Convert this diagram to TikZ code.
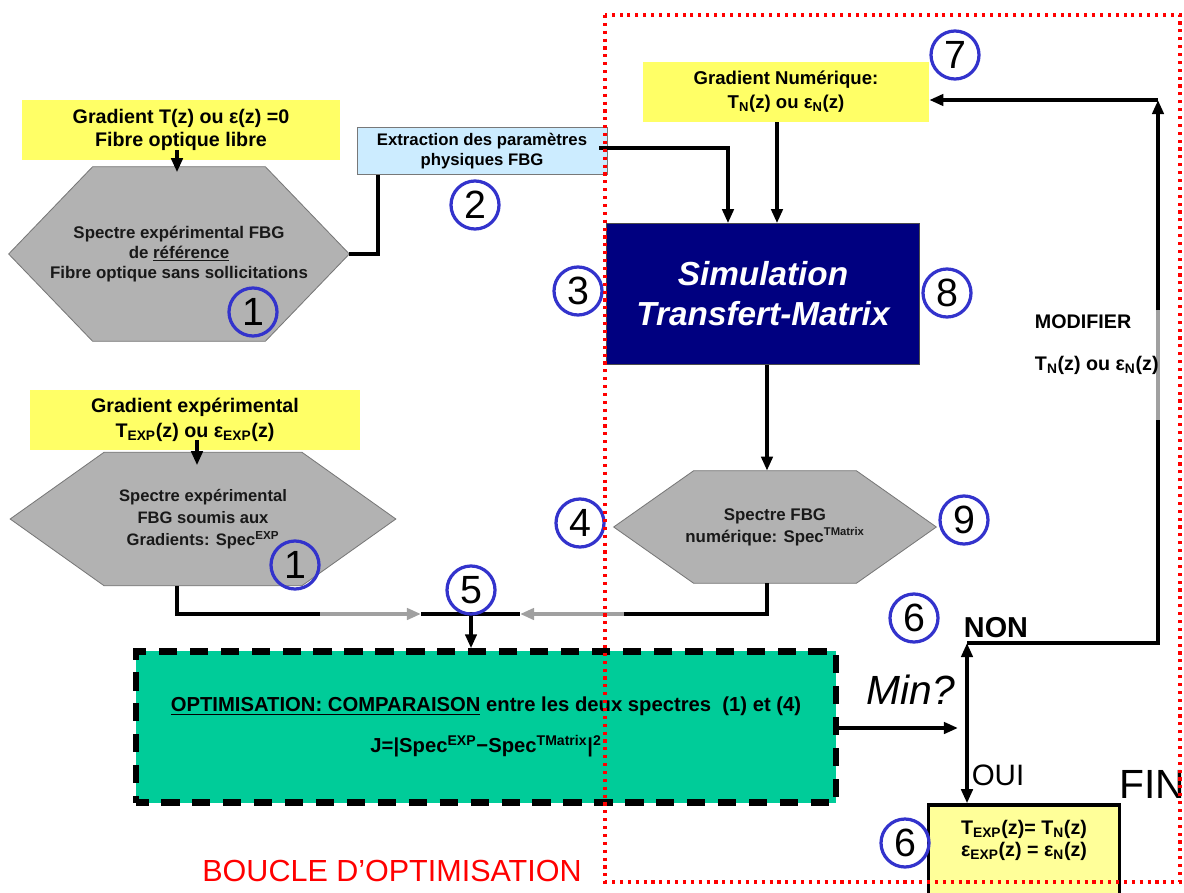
\documentclass[tikz,border=0pt]{standalone}
\usepackage{fontspec}
\setmainfont{Liberation Sans}
\usetikzlibrary{arrows.meta, positioning, calc, backgrounds}

\definecolor{padyellow}{RGB}{255,255,102}
\definecolor{finyellow}{RGB}{255,255,153}
\definecolor{hexgray}{RGB}{178,178,178}
\definecolor{hexedge}{RGB}{120,120,120}
\definecolor{extrblue}{RGB}{204,236,255}
\definecolor{simnavy}{RGB}{0,0,128}
\definecolor{optgreen}{RGB}{0,204,153}
\definecolor{numblue}{RGB}{51,51,204}
\definecolor{wiregray}{RGB}{160,160,160}
\definecolor{loopred}{RGB}{255,0,0}

\newcommand{\fsz}[2]{\fontsize{#1}{#2}\selectfont}

\tikzset{
  gradbox/.style={rectangle, fill=padyellow, align=center, font=\bfseries\fsz{14}{16.5}},
  hexnode/.style={align=center, text=black!90, font=\bfseries\fsz{11.8}{15.6}},
  hexfill/.style={fill=hexgray, draw=hexedge, line width=0.6pt},
  extrbox/.style={rectangle, fill=extrblue, draw=hexedge, line width=0.6pt, align=center,
    minimum width=6.25cm, minimum height=1.175cm, font=\bfseries\fsz{11.9}{14.2}},
  simbox/.style={rectangle, fill=simnavy, draw=black!70, text=white, align=center,
    minimum width=7.825cm, minimum height=3.525cm, font=\bfseries\itshape\fsz{23.7}{28.5}},
  optbox/.style={rectangle, fill=optgreen, draw=black, line width=4.5pt, dash pattern=on 13pt off 9pt,
    dash phase=4pt, align=center, minimum width=17.5cm, minimum height=3.775cm, font=\bfseries\fsz{14.4}{29}},
  finbox/.style={rectangle, fill=finyellow, draw=black, line width=2.4pt, align=center, text depth=16pt,
    minimum width=4.775cm, minimum height=2.25cm, font=\bfseries\fsz{14}{15.6}},
  num/.style={circle, draw=numblue, line width=2.3pt, minimum size=1.2cm, inner sep=0pt, font=\fsz{28}{28}},
  wire/.style={line width=2.8pt},
  arr/.style={wire, -{Triangle[length=10pt,width=8pt]}},
}

\begin{document}
\begin{tikzpicture}[x=0.025cm, y=-0.025cm]
  \useasboundingbox (0,0) rectangle (1184,893);
  \clip (0,0) rectangle (1184,893);

  % reference spectrum
  \node[gradbox, minimum width=7.95cm, minimum height=1.5cm] (grad0) at (181,130)
    {Gradient T(z) ou ε(z) =0\\Fibre optique libre};
  \node[hexnode, minimum width=8.5cm, minimum height=4.35cm, font=\bfseries\fsz{12}{14}] (hexa) at (179,254)
    {Spectre expérimental FBG\\de \underline{référence}\\Fibre optique sans sollicitations};
  \node[extrbox] (extr) at (482,151) {Extraction des paramètres\\physiques FBG};

  % measured spectrum
  \node[gradbox, minimum width=8.25cm, minimum height=1.5cm, font=\bfseries\fsz{14}{17.7}] (grad1) at (195,420)
    {Gradient expérimental\\T\textsubscript{EXP}(z) ou ε\textsubscript{EXP}(z)};
  \node[hexnode, minimum width=9.625cm, minimum height=3.325cm] (hexb) at (203,519)
    {Spectre expérimental\\FBG soumis aux\\Gradients: Spec\textsuperscript{EXP}};

  % simulated spectrum
  \node[gradbox, minimum width=7.15cm, minimum height=1.5cm, font=\bfseries\fsz{13.2}{17}] (gradN) at (786,92)
    {Gradient Numérique:\\T\textsubscript{N}(z) ou ε\textsubscript{N}(z)};
  \node[simbox] (sim) at (763,294) {Simulation\\Transfert-Matrix};
  \node[hexnode, minimum width=8.05cm, minimum height=2.8cm, font=\bfseries\fsz{12}{15.6}] (hexc) at (775,527)
    {Spectre FBG\\numérique: Spec\textsuperscript{TMatrix}};

  % comparison and end
  \node[optbox] (opt) at (486,727)
    {\underline{OPTIMISATION: COMPARAISON} entre les deux spectres\ \ (1) et (4)\\
     J=|Spec\textsuperscript{EXP}−Spec\textsuperscript{TMatrix}|\textsuperscript{2}};
  \node[finbox] (fin) at (1024,850)
    {T\textsubscript{EXP}(z)= T\textsubscript{N}(z)\\ε\textsubscript{EXP}(z) = ε\textsubscript{N}(z)};

  \begin{scope}[on background layer]
    \foreach \h/\d in {hexa/84, hexb/94, hexc/80}
      \filldraw[hexfill] (\h.west) -- ($(\h.north west)+(\d,0)$) -- ($(\h.north east)+(-\d,0)$)
        -- (\h.east) -- ($(\h.south east)+(-\d,0)$) -- ($(\h.south west)+(\d,0)$) -- cycle;
  \end{scope}

  % connectors
  \coordinate (t1) at (728,0);
  \coordinate (t2) at (777,0);
  \coordinate (t3) at (767,0);
  \coordinate (jl) at (421,614);
  \coordinate (jr) at (520,614);
  \coordinate (jm) at (471,614);
  \coordinate (ga) at (320,614);
  \coordinate (gb) at (624,614);
  \coordinate (dtop) at (967,643);
  \coordinate (mintip) at (958,728);
  \coordinate (lowgray) at (1158,420);
  \coordinate (highgray) at (1158,310);
  \coordinate (mback) at (1158,100);

  \draw[arr] ($(grad0.south)+(-4,-10)$) -- ($(grad0.south)+(-4,12)$);
  \draw[arr] ($(grad1.south)+(2,-10)$) -- ($(grad1.south)+(2,15)$);
  \draw[wire] (hexa.east) -| ($(extr.south west)+(21,0)$);
  \draw[arr] ($(extr.east)+(-8,-3)$) -| (t1 |- sim.north);
  \draw[arr] (t2 |- gradN.south) -- (t2 |- sim.north);
  \draw[arr] (t3 |- sim.south) -- (t3 |- hexc.north);

  \draw[wire] ($(hexb.south)+(-26,0)$) |- (ga);
  \draw[arr, wiregray] (ga) -- (jl);
  \draw[wire] ($(hexc.south)+(-8,0)$) |- (gb);
  \draw[arr, wiregray] (gb) -- (jr);
  \draw[wire] (jl) -- (jr);
  \draw[arr] (jm) -- (jm |- opt.north);

  \draw[arr] (opt.east |- mintip) -- (mintip);
  \draw[wire, {Triangle[length=10pt,width=8pt]}-{Triangle[length=10pt,width=8pt]}] (dtop) -- (dtop |- fin.north);
  \draw[wire] (dtop) -| (lowgray);
  \draw[wire, wiregray] (lowgray) -- (highgray);
  \draw[arr] (highgray) -- (mback);
  \draw[arr] (mback) -- (mback -| gradN.east);

  % step numbers
  \foreach \n/\x/\y/\t in {c1a/253/312/1, c2/475/205/2, c3/578/291/3, c4/580/523/4, c5/471/590/5,
      c6a/914/618/6, c6b/905/843/6, c7/955/55/7, c8/947/293/8, c9/964/520/9, c1b/295/565/1}
    \node[num] (\n) at (\x,\y) {\t};

  % labels
  \node[anchor=west, font=\bfseries\fsz{14}{14}] (modif) at (1030,322) {MODIFIER};
  \node[anchor=west, font=\bfseries\fsz{14}{14}] (modifT) at (1030,365) {T\textsubscript{N}(z) ou ε\textsubscript{N}(z)};
  \node[font=\itshape\fsz{29}{29}] (minq) at (911,690) {Min?};
  \node[font=\bfseries\fsz{20.5}{20.5}] (non) at (996,628) {NON};
  \node[font=\fsz{21}{21}] (oui) at (998,775) {OUI};
  \node[font=\fsz{29}{29}] (fintxt) at (1152,784) {FIN};
  \node[text=loopred, font=\fsz{21.7}{21.7}] (boucle) at (392,871) {BOUCLE D’OPTIMISATION};

  % optimisation loop frame
  \draw[loopred, line width=2.2pt, dash pattern=on 2.2pt off 3.4pt] (605,15) rectangle (1180,882);
\end{tikzpicture}
\end{document}
